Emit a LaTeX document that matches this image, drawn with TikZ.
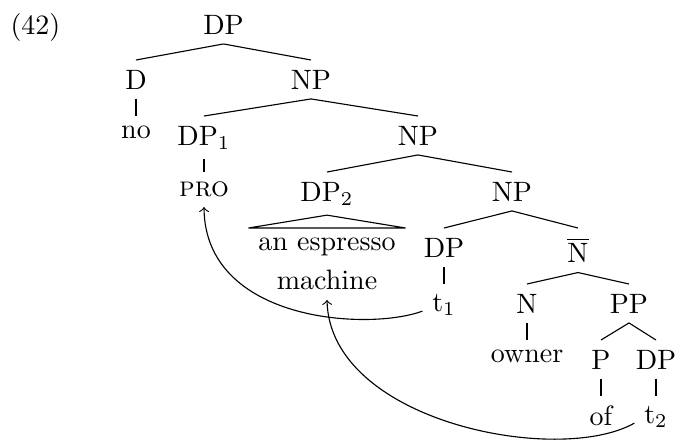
\documentclass[tikz,border=0pt]{standalone}
\begin{document}
\begin{tikzpicture}[x=0.357pt, y=-0.357pt,
  tn/.style={anchor=north},
  edge/.style={line width=0.4pt},
  mv/.style={->, line width=0.4pt}]
\useasboundingbox (0,0) rectangle (676,441);

% example number
\node[anchor=base west, inner sep=0pt] (exnum) at (10,34) {(42)};

% tree nodes, aligned by their top edges on each level
\node[tn] (dp0)   at (223.5,5) {DP};
\node[tn] (d)     at (136,60)  {D};
\node[tn] (np1)   at (311,60)  {NP};
\node[tn] (no)    at (136,116) {no};
\node[tn] (dp1)   at (204,116) {DP$_1$};
\node[tn] (np2)   at (418,116) {NP};
\node[tn] (pro)   at (204,172) {\textsc{pro}};
\node[tn] (dp2)   at (327,172) {DP$_2$};
\node[tn] (np3)   at (512,172) {NP};
\node[tn, align=center] (roof) at (327,228) {an espresso\\[2pt]machine};
\node[tn] (dp3)   at (444,228) {DP};
\node[tn] (nbar)  at (578,228) {$\overline{\mbox{N}}$};
\node[tn] (t1)    at (444,284) {t$_1$};
\node[tn] (n)     at (527,284) {N};
\node[tn] (pp)    at (629,284) {PP};
\node[tn] (owner) at (527,340) {owner};
\node[tn] (p)     at (601,340) {P};
\node[tn] (dp4)   at (656,340) {DP};
\node[tn] (of)    at (601,396) {of};
\node[tn] (t2)    at (656,396) {t$_2$};

% branches
\draw[edge] (dp0.south) -- (d.north);
\draw[edge] (dp0.south) -- (np1.north);
\draw[edge] (d.south) -- (no.north);
\draw[edge] (np1.south) -- (dp1.north);
\draw[edge] (np1.south) -- (np2.north);
\draw[edge] (dp1.south) -- (pro.north);
\draw[edge] (np2.south) -- (dp2.north);
\draw[edge] (np2.south) -- (np3.north);
\draw[edge] (dp2.south) -- (roof.north west) -- (roof.north east) -- cycle;
\draw[edge] (np3.south) -- (dp3.north);
\draw[edge] (np3.south) -- (nbar.north);
\draw[edge] (dp3.south) -- (t1.north);
\draw[edge] (nbar.south) -- (n.north);
\draw[edge] (nbar.south) -- (pp.north);
\draw[edge] (n.south) -- (owner.north);
\draw[edge] (pp.south) -- (p.north);
\draw[edge] (pp.south) -- (dp4.north);
\draw[edge] (p.south) -- (of.north);
\draw[edge] (dp4.south) -- (t2.north);

% movement arrows
\draw[mv] (t1.base west) .. controls +(-54,20) and +(1,115) .. (pro.south);
\draw[mv] (t2.base west) .. controls +(-76,43) and +(3,122) .. (roof.south);
\end{tikzpicture}
\end{document}
